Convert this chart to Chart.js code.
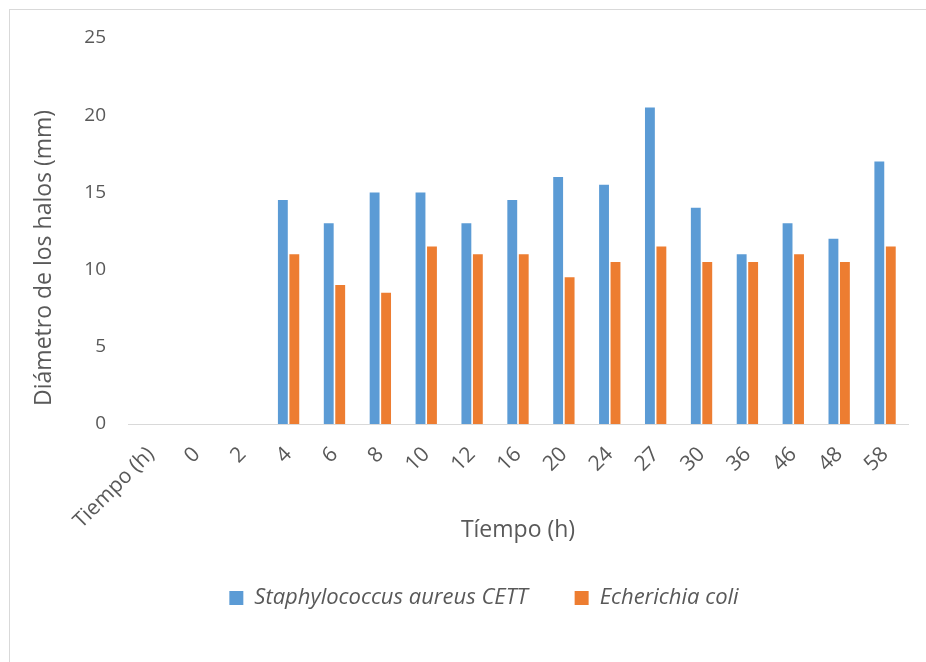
<!DOCTYPE html>
<html>
<head>
<meta charset="utf-8">
<script src="https://cdn.jsdelivr.net/npm/chart.js@4.4.1/dist/chart.umd.min.js"></script>
<style>
  html, body { margin: 0; padding: 0; background: #ffffff; }
  #wrap { position: relative; width: 926px; height: 662px; overflow: hidden; }
  #frame { position: absolute; left: 9px; top: 9px; width: 1000px; height: 1000px;
           border-left: 1px solid #d9d9d9; border-top: 1px solid #d9d9d9; box-sizing: border-box; }
  canvas { position: absolute; left: 0; top: 0; }
</style>
</head>
<body>
<div id="wrap">
  <div id="frame"></div>
  <canvas id="c" width="926" height="662"></canvas>
</div>
<script>
const categories = ["Tiempo (h)", "0", "2", "4", "6", "8", "10", "12", "16", "20", "24", "27", "30", "36", "46", "48", "58"];
const staphValues = [0, 0, 0, 14.5, 13, 15, 15, 13, 14.5, 16, 15.5, 20.5, 14, 11, 13, 12, 17];
const ecoliValues = [0, 0, 0, 11, 9, 8.5, 11.5, 11, 11, 9.5, 10.5, 11.5, 10.5, 10.5, 11, 10.5, 11.5];
const seriesNames = ["Staphylococcus aureus CETT", "Echerichia coli"];
const yTitle = "Diámetro de los halos (mm)";
const xTitle = "Tíempo (h)";

const FONT = "'Open Sans', 'DejaVu Sans', sans-serif";
const TXT = "#595959";

new Chart(document.getElementById('c'), {
  type: 'bar',
  data: {
    labels: categories,
    datasets: [
      { label: seriesNames[0], data: staphValues, backgroundColor: '#5b9bd5',
        categoryPercentage: 0.5, barPercentage: 0.86 },
      { label: seriesNames[1], data: ecoliValues, backgroundColor: '#ed7d31',
        categoryPercentage: 0.5, barPercentage: 0.86 }
    ]
  },
  options: {
    responsive: false,
    animation: false,
    layout: { padding: { top: 38, right: 18, left: 60, bottom: 43 } },
    plugins: {
      tooltip: { enabled: false },
      legend: {
        position: 'bottom',
        labels: {
          boxWidth: 14, boxHeight: 14, padding: 47, color: TXT,
          font: { family: FONT, size: 22, style: 'italic' }
        }
      }
    },
    scales: {
      x: {
        grid: { display: false },
        border: { display: true, color: '#d9d9d9', width: 1 },
        ticks: { color: TXT, font: { family: FONT, size: 21 }, minRotation: 45, maxRotation: 45, padding: 10, autoSkip: false },
        title: { display: true, text: xTitle, color: TXT, font: { family: FONT, size: 23 }, padding: { top: 4, bottom: -4 } },
        afterFit: (s) => { s.height = 116; }
      },
      y: {
        min: 0, max: 25,
        grid: { display: false },
        border: { display: false },
        ticks: { stepSize: 5, color: TXT, font: { family: FONT, size: 19 }, padding: 14 },
        title: { display: true, text: yTitle + "         ", color: TXT, font: { family: FONT, size: 23 }, padding: { top: -29 } },
        afterFit: (s) => { s.width = 68; }
      }
    }
  }
});
</script>
</body>
</html>
